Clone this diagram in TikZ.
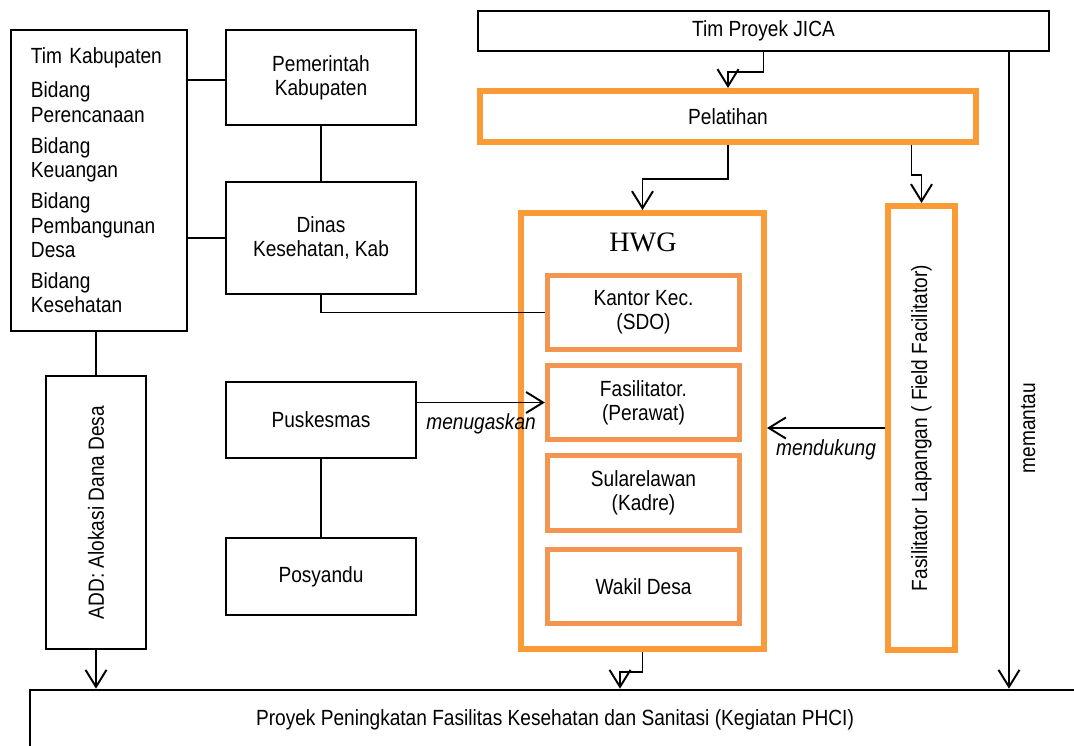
\documentclass[tikz,border=0pt]{standalone}
\usepackage{fontspec}
\setmainfont{Liberation Sans}[FakeStretch=0.87]
\newfontfamily\hwgfont{Liberation Serif}
\usetikzlibrary{arrows.meta,calc,positioning}
\definecolor{hwgorange}{RGB}{250,155,55}
\definecolor{suborange}{RGB}{243,148,80}
\tikzstyle{every node}=[font=\fontsize{12.5}{13.8}\selectfont, inner sep=0]
\tikzstyle{blackbox}=[draw, line width=1.5pt, align=center]
\tikzstyle{bigorange}=[draw=hwgorange, line width=3.4pt, align=center]
\tikzstyle{suborg}=[draw=suborange, line width=3pt, align=center]
\tikzstyle{link}=[line width=1.1pt]
\tikzstyle{arrow}=[link, -{Straight Barb[length=3.4mm,width=4.2mm]}]
\tikzstyle{remark}=[font=\fontsize{12.5}{13.8}\selectfont\itshape]
% box: style, name, position, width, height (in px), text
\newcommand{\boxnode}[6]{\node[#1, minimum width=#4*0.02cm, minimum height=#5*0.02cm] (#2) at (#3) {#6};}

\begin{document}
\begin{tikzpicture}[x=0.02cm, y=-0.02cm]
\useasboundingbox (0,0) rectangle (1074,746);
\clip (0,0) rectangle (1074,746);

% district side
\node[blackbox, align=left, text width=136*0.02cm, minimum width=176*0.02cm, minimum height=301*0.02cm] (timkab) at (99,180.5)
  {Tim Kabupaten\\[5.5pt]Bidang\\Perencanaan\\[4pt]Bidang\\Keuangan\\[4pt]Bidang\\Pembangunan\\Desa\\[4pt]Bidang\\Kesehatan};
\boxnode{blackbox}{pem}{321,77.5}{190}{95}{Pemerintah\\Kabupaten}
\boxnode{blackbox}{dinas}{321,238}{190}{112}{Dinas\\Kesehatan, Kab}
\boxnode{blackbox}{add}{96,512.5}{100}{273}{\rotatebox{90}{ADD: Alokasi Dana Desa}}
\boxnode{blackbox}{pusk}{321,420}{190}{76}{Puskesmas}
\boxnode{blackbox}{posy}{321,576.5}{190}{77}{Posyandu}

% project side
\boxnode{blackbox}{jica}{763.5,31}{571}{40}{Tim Proyek JICA}
\boxnode{bigorange}{pel}{728,116.5}{496}{51}{Pelatihan}
\boxnode{bigorange}{hwg}{642.5,431}{243}{436}{}
\node[font=\hwgfont\fontsize{16}{17}\selectfont] (hwgtitle) at (643,242) {HWG};
\boxnode{suborg}{kantor}{643.5,312.5}{192}{74}{Kantor Kec.\\(SDO)}
\boxnode{suborg}{fas}{643.5,402.5}{192}{74}{Fasilitator.\\(Perawat)}
\boxnode{suborg}{sula}{643.5,493}{192}{75}{Sularelawan\\(Kadre)}
\boxnode{suborg}{wakil}{643.5,586.5}{192}{74}{Wakil Desa}
\boxnode{bigorange}{ff}{921.5,428}{67}{444}{\rotatebox{90}{Fasilitator Lapangan ( Field Facilitator)}}
\boxnode{blackbox}{proj}{555,720}{1050}{60}{Proyek Peningkatan Fasilitas Kesehatan dan Sanitasi (Kegiatan PHCI)}

\coordinate (watch) at (1009,0);
\coordinate (hwgin) at (620,0);
\coordinate (pemlink) at (0,80);

% links
\draw[link] (timkab.east |- pemlink) -- (pem.west |- pemlink);
\draw[link] (timkab.east |- dinas.west) -- (dinas.west);
\draw[link] (pem.south) -- (dinas.north);
\draw[link] (dinas.south) |- (kantor.west);
\draw[link] (add.north |- timkab.south) -- (add.north);
\draw[link] (pusk.south) -- (posy.north);

% arrows
\draw[arrow] (jica.south) -- ++(0,20) -| (pel.north);
\draw[arrow] (pel.south) -- ++(0,34) -| (hwg.north);
\draw[arrow] ($(pel.south -| ff.north)+(-10,0)$) -- ++(0,30) -| (ff.north);
\draw[arrow] (hwg.south) -- ++(0,20) -| (hwgin |- proj.north);
\draw[arrow] (add.south) -- (add.south |- proj.north);
\draw[arrow] (watch |- jica.south) -- (watch |- proj.north);
\draw[arrow] (pusk.east |- fas.west) -- (fas.west) node[remark, midway, below=6pt] {menugaskan};
\draw[arrow] (ff.west) -- (ff.west -| hwg.east) node[remark, midway, below=6pt] {mendukung};
\node[rotate=90] (watchlabel) at (1028,428) {memantau};
\end{tikzpicture}
\end{document}
